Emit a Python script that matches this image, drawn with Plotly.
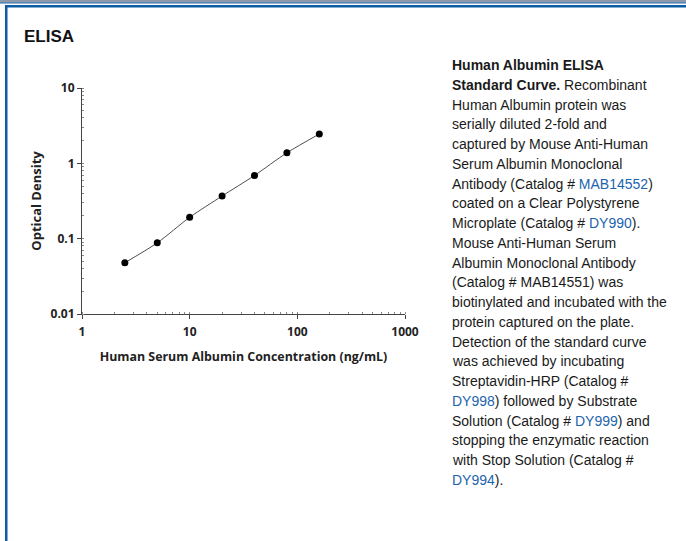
import plotly.graph_objects as go

# ---- data ----
concentration = [2.5, 5, 10, 20, 40, 80, 160]
optical_density = [0.048, 0.088, 0.192, 0.368, 0.69, 1.38, 2.45]
x_tickvals = [1, 10, 100, 1000]
x_ticktext = ["1", "10", "100", "1000"]
y_tickvals = [0.01, 0.1, 1, 10]
y_ticktext = ["0.01", "0.1", "1", "10"]
title_text = "ELISA"
x_title = "Human Serum Albumin Concentration (ng/mL)"
y_title = "Optical Density"
LINK = "#1c64ae"
caption_lines = [
    "<b>Human Albumin ELISA</b>",
    "<b>Standard Curve.</b> Recombinant",
    "Human Albumin protein was",
    "serially diluted 2-fold and",
    "captured by Mouse Anti-Human",
    "Serum Albumin Monoclonal",
    f"Antibody (Catalog # <span style='color:{LINK}'>MAB14552</span>)",
    "coated on a Clear Polystyrene",
    f"Microplate (Catalog # <span style='color:{LINK}'>DY990</span>).",
    "Mouse Anti-Human Serum",
    "Albumin Monoclonal Antibody",
    "(Catalog # MAB14551) was",
    "biotinylated and incubated with the",
    "protein captured on the plate.",
    "Detection of the standard curve",
    "was achieved by incubating",
    "Streptavidin-HRP (Catalog #",
    f"<span style='color:{LINK}'>DY998</span>) followed by Substrate",
    f"Solution (Catalog # <span style='color:{LINK}'>DY999</span>) and",
    "stopping the enzymatic reaction",
    "with Stop Solution (Catalog #",
    f"<span style='color:{LINK}'>DY994</span>).",
]

W, H = 686, 541
L, R, T, B = 82, 405, 88, 314


def px(x):
    return (x - L) / (R - L)


def py(y):
    return (B - y) / (B - T)


fig = go.Figure()
fig.add_trace(go.Scatter(
    x=concentration, y=optical_density, mode="lines+markers",
    line=dict(color="#3a3a3a", width=0.9, shape="spline", smoothing=0.8),
    marker=dict(color="black", size=7),
    showlegend=False, hoverinfo="skip",
))

axis_font = dict(family="Open Sans", size=12, color="#222", weight="bold")

fig.update_xaxes(
    type="log", range=[0, 3], tickvals=x_tickvals, ticktext=x_ticktext,
    showline=True, linecolor="#444", linewidth=1, showgrid=False, zeroline=False,
    ticks="outside", ticklen=4, tickcolor="#444", tickfont=axis_font, ticklabelstandoff=3,
    minor=dict(ticks="inside", ticklen=2, tickcolor="#888", dtick="D1", showgrid=False),
    title=dict(text=x_title, font=dict(family="Open Sans", size=12.4, color="#222", weight="bold"),
               standoff=12),
)
fig.update_yaxes(
    type="log", range=[-2, 1], tickvals=y_tickvals, ticktext=y_ticktext,
    showline=True, linecolor="#444", linewidth=1, showgrid=False, zeroline=False,
    ticks="outside", ticklen=4, tickcolor="#444", tickfont=axis_font,
    minor=dict(ticks="inside", ticklen=2, tickcolor="#888", dtick="D1", showgrid=False),
    title=dict(text=y_title, font=dict(family="Open Sans", size=13, color="#222", weight="bold"),
               standoff=6),
)

EXT = W + 40
shapes = [
    # top bands
    dict(type="rect", xref="paper", yref="paper", x0=px(-10), x1=px(EXT), y0=py(-5), y1=py(2.2),
         fillcolor="#8d9aab", line=dict(width=0), layer="above"),
    dict(type="rect", xref="paper", yref="paper", x0=px(-10), x1=px(EXT), y0=py(2.2), y1=py(3.4),
         fillcolor="#2a64a0", line=dict(width=0), layer="above"),
    # box border top
    dict(type="rect", xref="paper", yref="paper", x0=px(5), x1=px(EXT), y0=py(5), y1=py(7.5),
         fillcolor="#0c5ca4", line=dict(width=0), layer="above"),
    # box border left
    dict(type="rect", xref="paper", yref="paper", x0=px(5), x1=px(7.5), y0=py(5), y1=py(H + 40),
         fillcolor="#0c5ca4", line=dict(width=0), layer="above"),
]

annotations = [
    dict(text=f"<b>{title_text}</b>", xref="paper", yref="paper", x=px(22), y=py(36),
         xanchor="left", yanchor="middle", showarrow=False,
         font=dict(family="Liberation Sans, Arial", size=17, color="#111")),
]
line_h = 19.76
first_center = 65
for i, t in enumerate(caption_lines):
    annotations.append(dict(
        text=t, xref="paper", yref="paper", x=px(450), y=py(first_center + i * line_h),
        xanchor="left", yanchor="middle", showarrow=False, align="left",
        font=dict(family="Liberation Sans, Arial", size=14, color="#1a1a1a"),
    ))

fig.update_layout(
    width=W, height=H, autosize=False,
    margin=dict(l=L, r=W - R, t=T, b=H - B, pad=0),
    paper_bgcolor="white", plot_bgcolor="white",
    shapes=shapes, annotations=annotations,
)

fig.write_html(
    "out.html", config={"displayModeBar": False},
    post_script=(
        "document.documentElement.style.margin='0';"
        "document.documentElement.style.overflow='hidden';"
        "document.body.style.margin='0';"
        "document.body.style.overflow='hidden';"
    ),
)
